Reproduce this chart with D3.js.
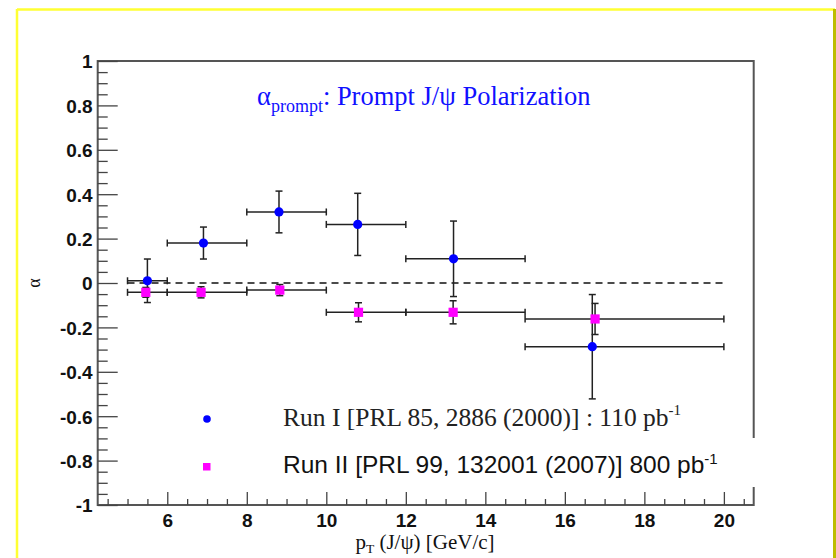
<!DOCTYPE html>
<html>
<head>
<meta charset="utf-8">
<script src="https://cdn.jsdelivr.net/npm/d3@7"></script>
<style>
  body { margin: 0; background: #fff; }
  svg { display: block; }
  .tick text { font-family: "Liberation Sans", Arial, sans-serif; font-weight: bold; font-size: 19px; fill: #111; }
  .serif { font-family: "Liberation Serif", "Times New Roman", serif; }
</style>
</head>
<body>
<div id="chart"></div>
<script>
// run I (blue circles)
let run1X = [5.5, 6.91, 8.81, 10.79, 13.2, 16.69];
let run1Y = [0.01, 0.18, 0.32, 0.264, 0.109, -0.287];
let run1Err = [0.098, 0.072, 0.094, 0.14, 0.17, 0.235];
// run II (magenta squares)
let run2X = [5.46, 6.85, 8.83, 10.81, 13.19, 16.76];
let run2Y = [-0.042, -0.042, -0.032, -0.132, -0.132, -0.162];
let run2Err = [0.022, 0.025, 0.025, 0.043, 0.052, 0.07];
// pT bins shared by both runs
let binLo = [5, 6, 8, 10, 12, 15];
let binHi = [6, 8, 10, 12, 15, 20];

let xTicks = [6, 8, 10, 12, 14, 16, 18, 20];
let yTicks = [-1, -0.8, -0.6, -0.4, -0.2, 0, 0.2, 0.4, 0.6, 0.8, 1];

let svgWidth = 836;
let svgHeight = 558;

let plot = { left: 97.7, right: 753.7, top: 61, bottom: 505 };

let svg = d3.select("#chart")
  .append("svg")
  .attr("width", svgWidth)
  .attr("height", svgHeight);

// yellow slide frame
svg.append("line").attr("x1", 17).attr("x2", 835).attr("y1", 9.5).attr("y2", 9.5)
  .attr("stroke", "#ffff33").attr("stroke-width", 2.5);
svg.append("line").attr("x1", 17).attr("x2", 17).attr("y1", 9).attr("y2", 558)
  .attr("stroke", "#ffff33").attr("stroke-width", 2.5);
svg.append("line").attr("x1", 834.5).attr("x2", 834.5).attr("y1", 9).attr("y2", 558)
  .attr("stroke", "#bdbd00").attr("stroke-width", 3);

let x = d3.scaleLinear().domain([4.25, 20.75]).range([plot.left, plot.right]);
let y = d3.scaleLinear().domain([-1, 1]).range([plot.bottom, plot.top]);

// frame
svg.append("rect")
  .attr("x", plot.left).attr("y", plot.top)
  .attr("width", plot.right - plot.left).attr("height", plot.bottom - plot.top)
  .attr("fill", "none").attr("stroke", "#555").attr("stroke-width", 2);

// minor ticks
let xMinor = d3.range(4.5, 20.6, 0.5).filter(v => v % 2 !== 0);
let yMinor = d3.range(-0.95, 0.96, 0.05).map(v => +v.toFixed(2)).filter(v => Math.abs(Math.round(v * 5) - v * 5) > 1e-6);

svg.append("g")
  .attr("transform", `translate(0,${plot.bottom})`)
  .call(d3.axisTop(x).tickValues(xMinor).tickSize(6).tickFormat(""))
  .call(g => g.select(".domain").remove())
  .selectAll("line").attr("stroke", "#444").attr("stroke-width", 1.3);

svg.append("g")
  .attr("transform", `translate(${plot.left},0)`)
  .call(d3.axisRight(y).tickValues(yMinor).tickSize(10).tickFormat(""))
  .call(g => g.select(".domain").remove())
  .selectAll("line").attr("stroke", "#444").attr("stroke-width", 1.3);

// major ticks + labels (plain hyphen for negatives, like the original)
let plainFmt = d => String(+d.toFixed(1));

let xAxis = svg.append("g")
  .attr("transform", `translate(0,${plot.bottom})`)
  .call(d3.axisTop(x).tickValues(xTicks).tickSize(13).tickFormat(plainFmt));
xAxis.select(".domain").remove();
xAxis.selectAll("line").attr("stroke", "#444").attr("stroke-width", 1.3);
xAxis.selectAll("text").attr("y", 9).attr("dy", "0.71em").attr("text-anchor", "middle");

let yAxis = svg.append("g")
  .attr("transform", `translate(${plot.left},0)`)
  .call(d3.axisRight(y).tickValues(yTicks).tickSize(20).tickFormat(plainFmt));
yAxis.select(".domain").remove();
yAxis.selectAll("line").attr("stroke", "#444").attr("stroke-width", 1.3);
yAxis.selectAll("text").attr("x", -5).attr("dy", "0.36em").attr("text-anchor", "end");

// zero line
svg.append("line")
  .attr("x1", x(5)).attr("x2", x(20))
  .attr("y1", y(0)).attr("y2", y(0))
  .attr("stroke", "#111").attr("stroke-width", 1.3)
  .attr("stroke-dasharray", "7,5");

function drawSeries(xs, ys, errs, color, shape) {
  let rows = xs.map((v, i) => ({ x: v, y: ys[i], e: errs[i], lo: binLo[i], hi: binHi[i] }));
  let g = svg.append("g");
  let errG = g.selectAll("g.err").data(rows).enter().append("g").attr("class", "err")
    .attr("stroke", "#222").attr("stroke-width", 1.5);
  // horizontal bar (bin width)
  errG.append("line")
    .attr("x1", d => x(d.lo)).attr("x2", d => x(d.hi))
    .attr("y1", d => y(d.y)).attr("y2", d => y(d.y));
  errG.append("line")
    .attr("x1", d => x(d.lo)).attr("x2", d => x(d.lo))
    .attr("y1", d => y(d.y) - 3.5).attr("y2", d => y(d.y) + 3.5);
  errG.append("line")
    .attr("x1", d => x(d.hi)).attr("x2", d => x(d.hi))
    .attr("y1", d => y(d.y) - 3.5).attr("y2", d => y(d.y) + 3.5);
  // vertical bar
  errG.append("line")
    .attr("x1", d => x(d.x)).attr("x2", d => x(d.x))
    .attr("y1", d => y(d.y + d.e)).attr("y2", d => y(d.y - d.e));
  errG.append("line")
    .attr("x1", d => x(d.x) - 3.5).attr("x2", d => x(d.x) + 3.5)
    .attr("y1", d => y(d.y + d.e)).attr("y2", d => y(d.y + d.e));
  errG.append("line")
    .attr("x1", d => x(d.x) - 3.5).attr("x2", d => x(d.x) + 3.5)
    .attr("y1", d => y(d.y - d.e)).attr("y2", d => y(d.y - d.e));

  if (shape === "circle") {
    g.selectAll("circle").data(rows).enter().append("circle")
      .attr("cx", d => x(d.x)).attr("cy", d => y(d.y)).attr("r", 4.6)
      .attr("fill", color);
  } else {
    g.selectAll("rect.m").data(rows).enter().append("rect")
      .attr("class", "m")
      .attr("x", d => x(d.x) - 4.6).attr("y", d => y(d.y) - 4.6)
      .attr("width", 9.2).attr("height", 9.2)
      .attr("fill", color);
  }
}

drawSeries(run1X, run1Y, run1Err, "#0000ff", "circle");
drawSeries(run2X, run2Y, run2Err, "#ff00ff", "square");

// title
let title = svg.append("text").attr("class", "serif")
  .attr("x", 257).attr("y", 105)
  .attr("font-size", 26.5).attr("fill", "#1010ff");
title.append("tspan").text("\u03b1");
title.append("tspan").attr("font-size", 18).attr("dy", 7).text("prompt");
title.append("tspan").attr("dy", -7).text(": Prompt J/\u03c8 Polarization");

// axis titles
let xt = svg.append("text").attr("class", "serif")
  .attr("x", 425).attr("y", 549).attr("text-anchor", "middle")
  .attr("font-size", 21).attr("fill", "#111");
xt.append("tspan").text("p");
xt.append("tspan").attr("font-size", 13.5).attr("dy", 4).text("T");
xt.append("tspan").attr("dy", -4).text(" (J/\u03c8) [GeV/c]");

svg.append("text").attr("class", "serif")
  .attr("transform", `translate(40,${y(0)}) rotate(-90)`)
  .attr("text-anchor", "middle")
  .attr("font-size", 18).attr("fill", "#111")
  .text("\u03b1");

// legend
svg.append("rect").attr("x", 190).attr("y", 438).attr("width", 575).attr("height", 49).attr("fill", "#fff");

svg.append("circle").attr("cx", 207).attr("cy", 419).attr("r", 3.8).attr("fill", "#0000ff");
let l1 = svg.append("text").attr("class", "serif")
  .attr("x", 283).attr("y", 426).attr("font-size", 25.5).attr("fill", "#222");
l1.append("tspan").text("Run I [PRL 85, 2886 (2000)] : 110 pb");
l1.append("tspan").attr("font-size", 15).attr("dy", -11).text("-1");

svg.append("rect").attr("x", 203).attr("y", 463).attr("width", 7.5).attr("height", 7.5).attr("fill", "#ff00ff");
let l2 = svg.append("text")
  .attr("x", 283).attr("y", 473)
  .attr("font-family", "Liberation Sans, Arial, sans-serif")
  .attr("font-size", 24.5).attr("fill", "#111");
l2.append("tspan").text("Run II [PRL 99, 132001 (2007)] 800 pb");
l2.append("tspan").attr("font-size", 15).attr("dy", -9).text("-1");
</script>
</body>
</html>
